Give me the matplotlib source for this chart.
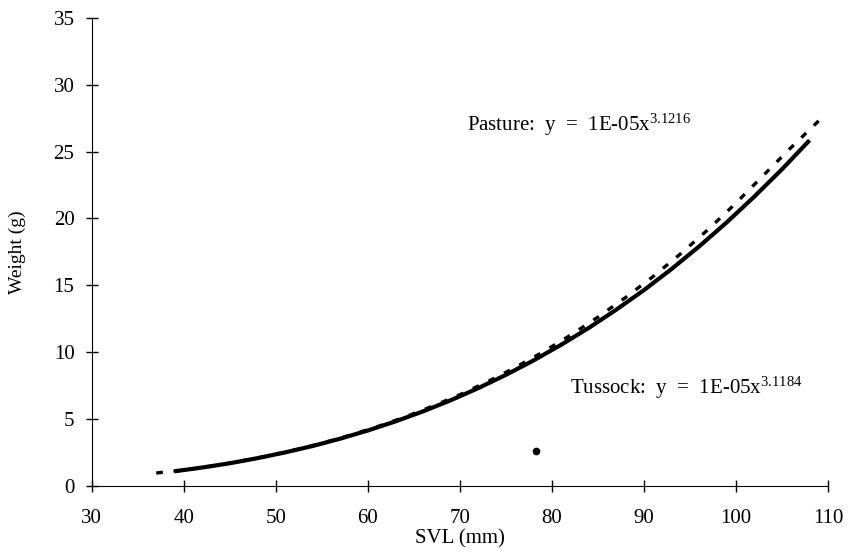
import matplotlib.pyplot as plt

plt.rcParams['font.family'] = ['Liberation Serif', 'DejaVu Serif']
plt.rcParams['mathtext.fontset'] = 'custom'
plt.rcParams['mathtext.rm'] = 'Liberation Serif'
plt.rcParams['mathtext.it'] = 'Liberation Serif:italic'

# Tussock fit (solid line)
tussock_svl = [39, 42, 45, 48, 51, 54, 57, 60, 63, 66, 69, 72, 75, 78, 81, 84,
               87, 90, 93, 96, 99, 102, 105, 108]
tussock_wt = [1.08, 1.36, 1.68, 2.06, 2.49, 2.97, 3.52, 4.13, 4.81, 5.56, 6.39,
              7.30, 8.29, 9.37, 10.54, 11.80, 13.17, 14.63, 16.21, 17.90, 19.70,
              21.63, 23.67, 25.84]

# Pasture fit (dashed line)
pasture_svl = [37, 40, 43, 46, 49, 52, 55, 58, 61, 64, 67, 70, 73, 76, 79, 82,
               85, 88, 91, 94, 97, 100, 103, 106, 109]
pasture_wt = [0.95, 1.17, 1.46, 1.81, 2.21, 2.66, 3.18, 3.76, 4.41, 5.13, 5.94,
              6.81, 7.78, 8.84, 9.99, 11.25, 12.61, 14.08, 15.65, 17.36, 19.18,
              21.14, 23.23, 25.30, 27.30]

# stray point near the axis
extra_svl = [78.3]
extra_wt = [2.6]

x_ticks = [30, 40, 50, 60, 70, 80, 90, 100, 110]
y_ticks = [0, 5, 10, 15, 20, 25, 30, 35]

fig = plt.figure(figsize=(8.58, 5.57), dpi=100)
ax = fig.add_axes([0.107, 0.128, 0.858, 0.840])

ax.plot(tussock_svl, tussock_wt, color='black', lw=3.0, solid_capstyle='butt')
ax.plot(pasture_svl, pasture_wt, color='black', lw=2.4, linestyle=(0, (2.0, 3.2)))
ax.plot(extra_svl, extra_wt, 'o', color='black', ms=4.5)

ax.text(70.8, 27.0, 'Pasture:  y  =  1E-05x$^{3.1216}$', fontsize=15, va='center')
ax.text(82.0, 7.3, 'Tussock:  y  =  1E-05x$^{3.1184}$', fontsize=15, va='center')

ax.set_xlim(30, 110)
ax.set_ylim(0, 35)
ax.set_xticks(x_ticks)
ax.set_yticks(y_ticks)
ax.spines['top'].set_visible(False)
ax.spines['right'].set_visible(False)
ax.tick_params(direction='inout', length=9, width=1, labelsize=15)
ax.tick_params(axis='x', pad=12)
ax.tick_params(axis='y', pad=8)

ax.set_xlabel('SVL (mm)', fontsize=15, labelpad=1)
ax.set_ylabel('Weight (g)', fontsize=14, labelpad=20)

fig.savefig('out.png', dpi=100)
